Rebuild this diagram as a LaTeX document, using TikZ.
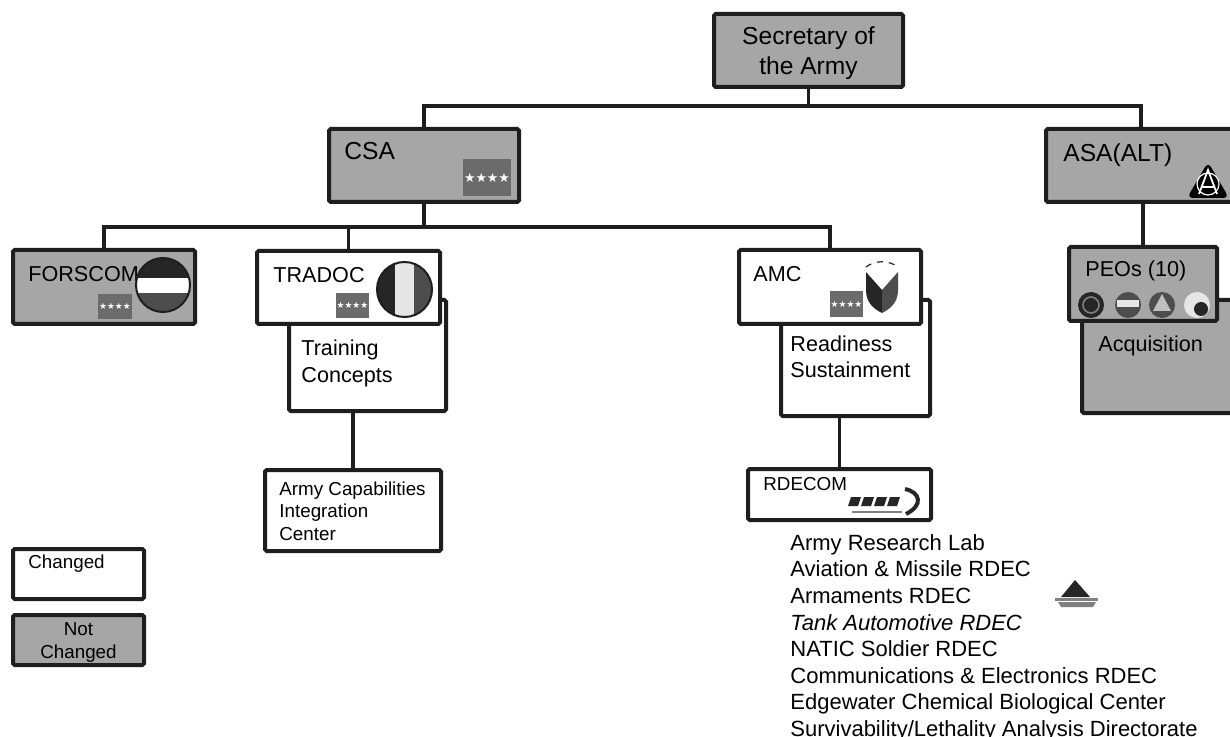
\documentclass[tikz,border=0pt]{standalone}
\usepackage{fontspec}
\setmainfont{Liberation Sans}
\newfontfamily\symfont{DejaVu Sans}
\usetikzlibrary{positioning,calc}
\definecolor{boxgray}{HTML}{A6A6A6}
\definecolor{linecol}{HTML}{1E1E1E}
\definecolor{badgegray}{HTML}{6B6B6B}
\definecolor{darklogo}{HTML}{262626}
\definecolor{midlogo}{HTML}{4D4D4D}
\definecolor{lightlogo}{HTML}{E6E6E6}
\newcommand{\fbig}{\fontsize{12.3}{15}\selectfont}
\newcommand{\fmid}{\fontsize{10.8}{13.2}\selectfont}
\newcommand{\flist}{\fontsize{11}{13.3}\selectfont}
\newcommand{\fsmall}{\fontsize{9.4}{11.1}\selectfont}
\tikzset{
	box/.style={draw=linecol, line width=2pt, rounded corners=0.8pt, inner sep=0pt},
	same/.style={box, fill=boxgray},
	new/.style={box, fill=white},
	lbl/.style={anchor=base west, inner sep=0pt, align=left, text=black},
	link/.style={draw=linecol, line width=1.6pt},
	badge/.style={fill=badgegray, inner sep=0pt, text=white, font=\symfont\fontsize{4.4}{5}\selectfont},
}

\begin{document}
\begin{tikzpicture}[x=0.5pt, y=-0.5pt]
	\useasboundingbox (0,0) rectangle (1230,737);
	\clip (0,0) rectangle (1230,737);

	% boxes
	\node[same, minimum width=94.5pt, minimum height=36.5pt] (sec) at (808.5,50.5) {};
	\node[same, minimum width=95pt, minimum height=36.5pt] (CSA) at (424,165.5) {};
	\node[same, minimum width=95pt, minimum height=36.5pt] (ASA) at (1141,165.5) {};
	\node[same, minimum width=91pt, minimum height=37pt] (FORSCOM) at (104,287) {};
	\node[new, minimum width=78.5pt, minimum height=55.5pt] (training) at (367.5,355.5) {};
	\node[new, minimum width=91.5pt, minimum height=36.5pt] (TRADOC) at (348.5,287.5) {};
	\node[new, minimum width=88pt, minimum height=40.5pt] (ACIC) at (353,510.5) {};
	\node[new, minimum width=74.5pt, minimum height=58pt] (readiness) at (855.5,358) {};
	\node[new, minimum width=91pt, minimum height=37pt] (AMC) at (830,287) {};
	\node[new, minimum width=91.5pt, minimum height=25.5pt] (RDECOM) at (839.5,494.5) {};
	\node[same, minimum width=80.5pt, minimum height=56.5pt] (acq) at (1162.5,356.5) {};
	\node[same, minimum width=74pt, minimum height=37pt] (PEOs) at (1143,284) {};
	\node[new, minimum width=65.5pt, minimum height=25pt] (changed) at (78.5,574) {};
	\node[same, minimum width=65.5pt, minimum height=25pt] (unchanged) at (78.5,640) {};

	% connectors
	\coordinate (topbus) at (808.5,106);
	\coordinate (csabus) at (424,227);
	\draw[link] (sec.south) -- (topbus);
	\draw[link] (CSA.north) |- (topbus) -| (ASA.north);
	\draw[link] (CSA.south) -- (csabus);
	\draw[link] (FORSCOM.north) |- (csabus) -| (AMC.north);
	\draw[link] (TRADOC.north) -- (TRADOC.north |- csabus);
	\draw[link] (ACIC.north) -- (ACIC.north |- training.south);
	\draw[link] (RDECOM.north) -- (RDECOM.north |- readiness.south);
	\draw[link] (PEOs.north |- ASA.south) -- (PEOs.north);

	% labels (multi-line ones sit on their last line)
	\node[lbl, anchor=base, align=center, font=\fbig] (sectext) at (808.5,75) {Secretary of\\the Army};
	\node[lbl, font=\fbig] (csatext) at (344,160) {CSA};
	\node[lbl, font=\fbig] (asatext) at (1063,162) {ASA(ALT)};
	\node[lbl, font=\fmid] (forstext) at (28,282) {FORSCOM};
	\node[lbl, font=\fmid] (tradtext) at (273,283) {TRADOC};
	\node[lbl, font=\fmid] (amctext) at (753,282) {AMC};
	\node[lbl, font=\fmid] (peotext) at (1085,277) {PEOs (10)};
	\node[lbl, font=\fmid] (traintext) at (301,382) {Training\\Concepts};
	\node[lbl, font=\fmid] (readtext) at (790,378) {Readiness\\Sustainment};
	\node[lbl, font=\fmid] (acqtext) at (1098,351) {Acquisition};
	\node[lbl, font=\fsmall] (acictext) at (279,540) {Army Capabilities\\Integration\\Center};
	\node[lbl, font=\fsmall] (rdtext) at (763,490) {RDECOM};
	\node[lbl, font=\fsmall] (chtext) at (28,568) {Changed};
	\node[lbl, anchor=base, align=center, font=\fsmall] (unchtext) at (78.5,658) {Not\\Changed};
	\node[lbl, font=\flist] (labs) at (790,736.5) {Army Research Lab\\Aviation \& Missile RDEC\\Armaments RDEC\\\textit{Tank Automotive RDEC}\\NATIC Soldier RDEC\\Communications \& Electronics RDEC\\Edgewater Chemical Biological Center\\Survivability/Lethality Analysis Directorate};

	% rank badges
	\node[badge, minimum width=24pt, minimum height=18.5pt, font=\symfont\fontsize{6.4}{7}\selectfont] (csastars) at (487,177.5) {★★★★};
	\node[badge, minimum width=17pt, minimum height=12.5pt] (forsstars) at (115,306.5) {★★★★};
	\node[badge, minimum width=16.5pt, minimum height=12.5pt] (tradstars) at (352.5,305.5) {★★★★};
	\node[badge, minimum width=16.5pt, minimum height=13pt] (amcstars) at (846.5,304) {★★★★};

	% FORSCOM patch
	\begin{scope}
		\clip (163,285) circle (13.5pt);
		\fill[darklogo] (120,250) rectangle (210,278);
		\fill[white] (120,278) rectangle (210,293);
		\fill[midlogo] (120,293) rectangle (210,320);
	\end{scope}
	\draw[linecol, line width=1pt] (163,285) circle (13.5pt);

	% TRADOC patch
	\begin{scope}
		\clip (404.5,289.5) circle (13.75pt);
		\fill[darklogo] (370,255) rectangle (395,325);
		\fill[lightlogo] (395,255) rectangle (414,325);
		\fill[midlogo] (414,255) rectangle (440,325);
	\end{scope}
	\draw[linecol, line width=1pt] (404.5,289.5) circle (13.75pt);

	% AMC shield
	\fill[white] (866,267) .. controls (875,260) and (889,260) .. (898,267) -- (898,290) .. controls (898,303) and (890,309) .. (882,313) .. controls (874,309) and (866,303) .. (866,290) -- cycle;
	\fill[darklogo] (866,272) -- (882,290) -- (882,313) .. controls (874,309) and (866,303) .. (866,290) -- cycle;
	\fill[midlogo] (898,272) -- (882,290) -- (882,313) .. controls (890,309) and (898,303) .. (898,290) -- cycle;
	\draw[darklogo, line width=0.6pt, dashed] (866,267) .. controls (875,260) and (889,260) .. (898,267);

	% ASA(ALT) emblem
	\fill[black, rounded corners=3pt] (1208,162) -- (1229,198) -- (1187,198) -- cycle;
	\draw[white, line width=0.6pt] (1208,184) circle (5.5pt);
	\draw[white, line width=0.9pt] (1199,194) -- (1208,170) -- (1217,194) (1202,187) -- (1214,187);

	% PEO patches
	\fill[darklogo] (1091,305) circle (6.5pt);
	\draw[gray, line width=0.8pt] (1091,305) circle (4pt);
	\fill[midlogo] (1128,305) circle (6.5pt);
	\fill[lightlogo] (1117,300) rectangle (1139,307);
	\fill[midlogo] (1162,305) circle (6.5pt);
	\fill[lightgray] (1162,294) -- (1171,311) -- (1153,311) -- cycle;
	\fill[lightlogo] (1197,305) circle (6.5pt);
	\fill[darklogo] (1201,309) circle (3.5pt);

	% RDECOM logo
	\foreach \x in {848,861,874,887} {
		\fill[darklogo] (\x,506) -- (\x+3,497) -- (\x+13,497) -- (\x+10,506) -- cycle;
	}
	\draw[darklogo, line width=2pt] (905,489) .. controls (920,492) and (924,505) .. (906,514);
	\draw[gray, line width=0.8pt] (852,512) -- (902,512);

	% pyramid logo
	\fill[darklogo] (1075,580) -- (1090,597) -- (1061,597) -- cycle;
	\fill[gray] (1055,598) rectangle (1098,601);
	\fill[gray] (1058,602) -- (1096,602) -- (1093,607) -- (1061,607) -- cycle;
\end{tikzpicture}
\end{document}
